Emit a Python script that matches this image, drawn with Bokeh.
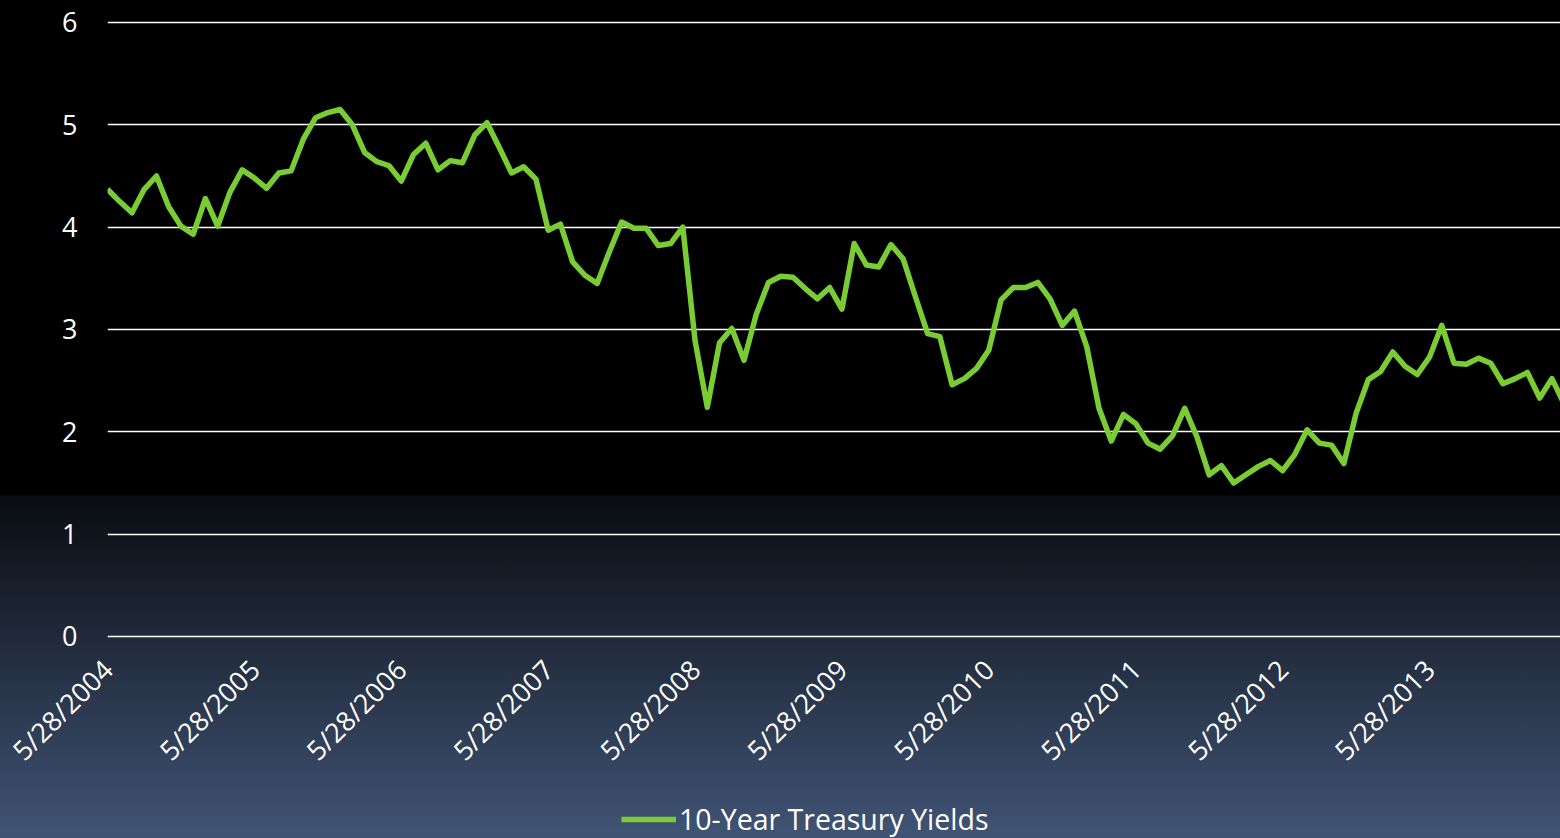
import math
from bokeh.plotting import figure
from bokeh.layouts import column
from bokeh.models import ColumnDataSource, FixedTicker, Legend, LegendItem
from bokeh.embed import file_html
from bokeh.resources import INLINE

series_name = "10-Year Treasury Yields"
tick_labels = ["5/28/2004", "5/28/2005", "5/28/2006", "5/28/2007", "5/28/2008",
               "5/28/2009", "5/28/2010", "5/28/2011", "5/28/2012", "5/28/2013"]
yields = [
    4.37, 4.25, 4.14, 4.37, 4.50, 4.20, 4.01, 3.93, 4.28, 4.01,
    4.34, 4.56, 4.48, 4.38, 4.53, 4.55, 4.86, 5.07, 5.12, 5.15,
    5.00, 4.73, 4.64, 4.60, 4.45, 4.71, 4.82, 4.56, 4.65, 4.63,
    4.90, 5.02, 4.78, 4.53, 4.59, 4.47, 3.97, 4.03, 3.66, 3.53,
    3.45, 3.76, 4.05, 3.99, 3.99, 3.82, 3.84, 4.00, 2.89, 2.24,
    2.87, 3.01, 2.70, 3.15, 3.46, 3.52, 3.51, 3.40, 3.30, 3.41,
    3.20, 3.84, 3.63, 3.61, 3.83, 3.69, 3.32, 2.96, 2.93, 2.46,
    2.52, 2.62, 2.80, 3.29, 3.41, 3.41, 3.46, 3.30, 3.04, 3.18,
    2.83, 2.23, 1.91, 2.17, 2.08, 1.89, 1.83, 1.96, 2.23, 1.95,
    1.58, 1.67, 1.50, 1.58, 1.66, 1.72, 1.62, 1.78, 2.02, 1.89,
    1.87, 1.69, 2.18, 2.51, 2.59, 2.78, 2.64, 2.56, 2.73, 3.04,
    2.67, 2.66, 2.72, 2.67, 2.47, 2.52, 2.58, 2.33, 2.52, 2.27,
]
y_ticks = [0, 1, 2, 3, 4, 5, 6]

idx = list(range(len(yields)))
src = ColumnDataSource(dict(x=idx, y=yields))

FONT = "Open Sans"
GREEN = "#7acc34"

p = figure(width=1560, height=790, output_backend="svg", toolbar_location=None,
           x_range=(0, 118.7), y_range=(-0.0391, 6.0586),
           min_border_left=107, min_border_right=0, min_border_top=16,
           min_border_bottom=150)
p.background_fill_alpha = 0
p.border_fill_alpha = 0
p.outline_line_alpha = 0

r = p.line("x", "y", source=src, line_color=GREEN, line_width=5.5, line_join="round")

p.xgrid.visible = False
p.ygrid.ticker = FixedTicker(ticks=y_ticks)
p.ygrid.grid_line_color = "white"
p.ygrid.grid_line_width = 1.6

p.yaxis.ticker = FixedTicker(ticks=y_ticks)
p.yaxis.axis_line_alpha = 0
p.yaxis.major_tick_line_alpha = 0
p.yaxis.minor_tick_line_alpha = 0
p.yaxis.major_tick_out = 0
p.yaxis.major_label_standoff = 30
p.yaxis.major_label_text_color = "white"
p.yaxis.major_label_text_font = FONT
p.yaxis.major_label_text_font_size = "27px"

xt = [12 * i for i in range(len(tick_labels))]
p.xaxis.ticker = FixedTicker(ticks=xt)
p.xaxis.major_label_overrides = {t: lab for t, lab in zip(xt, tick_labels)}
p.xaxis.major_label_orientation = math.pi / 4
p.xaxis.axis_line_alpha = 0
p.xaxis.major_tick_line_alpha = 0
p.xaxis.minor_tick_line_alpha = 0
p.xaxis.major_tick_out = 0
p.xaxis.major_label_standoff = 24
p.xaxis.major_label_text_color = "white"
p.xaxis.major_label_text_font = FONT
p.xaxis.major_label_text_font_size = "27px"

# legend strip below the chart
q = figure(width=1560, height=48, output_backend="svg", toolbar_location=None,
           x_range=(0, 1560), y_range=(0, 48),
           min_border_left=0, min_border_right=0, min_border_top=0, min_border_bottom=0)
q.axis.visible = False
q.grid.visible = False
q.background_fill_alpha = 0
q.border_fill_alpha = 0
q.outline_line_alpha = 0
r2 = q.line("x", "y", source=src, line_color=GREEN, line_width=5.5, visible=False)

legend = Legend(items=[LegendItem(label=series_name, renderers=[r2])],
                location=(514, 0), orientation="horizontal",
                glyph_width=55, glyph_height=20, label_standoff=3,
                padding=0, margin=0, spacing=0,
                background_fill_alpha=0, border_line_alpha=0,
                label_text_color="white", label_text_font=FONT,
                label_text_font_size="28.5px")
q.add_layout(legend, "center")

layout = column(p, q, spacing=0, width=1560, height=838)
layout.styles = {"background": "linear-gradient(to bottom, #000000 0px, #000000 495px, #0a0c11 496px, #405475 838px)"}

open("out.html", "w").write(file_html(layout, INLINE))
